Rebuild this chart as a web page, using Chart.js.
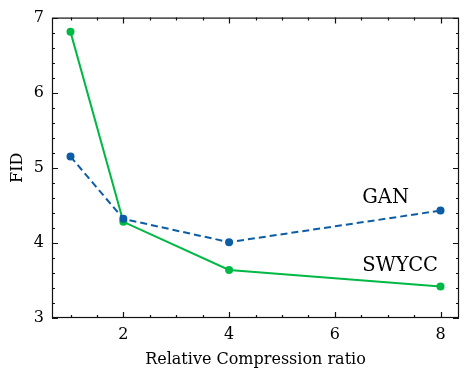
<!DOCTYPE html>
<html>
<head>
<meta charset="utf-8">
<script src="https://cdn.jsdelivr.net/npm/chart.js@4"></script>
<style>
  html, body { margin: 0; padding: 0; background: #fff; }
  #wrap { width: 468px; height: 379px; }
</style>
</head>
<body>
<div id="wrap"><canvas id="fidChart" width="468" height="379"></canvas></div>
<script>
// data
var ratios = [1, 2, 4, 8];
var ganFid = [5.15, 4.32, 4.01, 4.43];
var swyccFid = [6.81, 4.28, 3.64, 3.42];
var xTicks = [2, 4, 6, 8];
var yTicks = [3, 4, 5, 6, 7];

var blue = '#0C5DA5';
var green = '#00B945';
var serif = "'DejaVu Serif', serif";
var fsize = 16;

function pts(xs, ys) {
  return xs.map(function (x, i) { return { x: x, y: ys[i] }; });
}

// inward ticks on all four sides + labels next to the lines
var framePlugin = {
  id: 'frame',
  afterDraw: function (chart) {
    var ctx = chart.ctx, a = chart.chartArea;
    var xs = chart.scales.x, ys = chart.scales.y;
    ctx.save();
    ctx.strokeStyle = '#111';
    ctx.lineWidth = 1.2;
    ctx.strokeRect(a.left + 0.5, a.top + 0.5, a.right - a.left - 1, a.bottom - a.top - 1);
    ctx.beginPath();
    for (var v = 1; v <= 8.001; v += 0.5) {
      var px = Math.round(xs.getPixelForValue(v)) + 0.5;
      var len = xTicks.indexOf(v) >= 0 ? 6 : 3;
      ctx.moveTo(px, a.bottom); ctx.lineTo(px, a.bottom - len);
      ctx.moveTo(px, a.top); ctx.lineTo(px, a.top + len);
    }
    for (var k = 0; k <= 20; k++) {
      var yv = 3 + k * 0.2;
      var py = Math.round(ys.getPixelForValue(yv)) + 0.5;
      var ylen = k % 5 === 0 ? 6 : 3;
      ctx.moveTo(a.left, py); ctx.lineTo(a.left + ylen, py);
      ctx.moveTo(a.right, py); ctx.lineTo(a.right - ylen, py);
    }
    ctx.stroke();

    ctx.fillStyle = '#000';
    ctx.font = '19.5px ' + serif;
    ctx.textAlign = 'left';
    ctx.textBaseline = 'middle';
    ctx.fillText('GAN', xs.getPixelForValue(6.52), ys.getPixelForValue(4.6));
    ctx.fillText('SWYCC', xs.getPixelForValue(6.52), ys.getPixelForValue(3.69));
    ctx.restore();
  }
};

var ctx = document.getElementById('fidChart').getContext('2d');
var fidChart = new Chart(ctx, {
  type: 'line',
  data: {
    datasets: [{
      label: 'GAN',
      data: pts(ratios, ganFid),
      borderColor: blue,
      backgroundColor: blue,
      borderWidth: 2,
      borderDash: [7, 4],
      pointRadius: 4,
      pointBorderWidth: 0,
      tension: 0
    }, {
      label: 'SWYCC',
      data: pts(ratios, swyccFid),
      borderColor: green,
      backgroundColor: green,
      borderWidth: 2,
      pointRadius: 4,
      pointBorderWidth: 0,
      tension: 0
    }]
  },
  options: {
    responsive: false,
    animation: false,
    layout: { padding: { top: 14, right: 9, left: 8, bottom: 0 } },
    plugins: { legend: { display: false }, tooltip: { enabled: false } },
    scales: {
      x: {
        type: 'linear',
        min: 0.65,
        max: 8.35,
        afterBuildTicks: function (s) { s.ticks = xTicks.map(function (v) { return { value: v }; }); },
        afterFit: function (s) { s.height = 61; },
        grid: { display: false, drawTicks: false },
        border: { display: false },
        ticks: { color: '#000', font: { family: serif, size: fsize }, padding: 7, maxRotation: 0 },
        title: { display: true, text: 'Relative Compression ratio', color: '#000', font: { family: serif, size: fsize }, padding: { top: 0, bottom: 10 } }
      },
      y: {
        min: 3,
        max: 7,
        afterBuildTicks: function (s) { s.ticks = yTicks.map(function (v) { return { value: v }; }); },
        afterFit: function (s) { s.width = 44; },
        grid: { display: false, drawTicks: false },
        border: { display: false },
        ticks: { color: '#000', font: { family: serif, size: fsize }, padding: 8 },
        title: { display: true, text: 'FID', color: '#000', font: { family: serif, size: fsize }, padding: 0 }
      }
    }
  },
  plugins: [framePlugin]
});
</script>
</body>
</html>
